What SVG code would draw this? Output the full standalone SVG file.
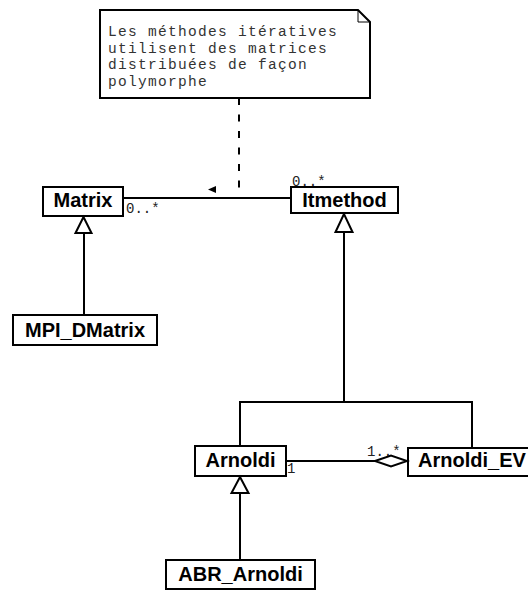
<svg xmlns="http://www.w3.org/2000/svg" width="528" height="590" viewBox="0 0 528 590">
  <style>
    .box { fill: #fff; stroke: #000; stroke-width: 2; }
    .name { font-family: "Liberation Sans", Arial, sans-serif; font-weight: bold; font-size: 20px; text-anchor: middle; fill: #000; }
    .note { font-family: "Liberation Mono", "Courier New", monospace; font-size: 14.5px; letter-spacing: 1.3px; fill: #333; }
    .mult { font-family: "Liberation Mono", "Courier New", monospace; font-size: 14px; fill: #222; }
    .line { fill: none; stroke: #000; stroke-width: 2; }
    .gen { fill: #fff; stroke: #000; stroke-width: 2; stroke-linejoin: miter; }
  </style>

  <!-- Note -->
  <g id="note">
    <path d="M100,10 H358 L370,22 V98 H100 Z" fill="#fff" stroke="#000" stroke-width="2"/>
    <path d="M358,10 V22 H370" fill="none" stroke="#000" stroke-width="1"/>
    <text class="note" x="108" y="36">Les méthodes itératives</text>
    <text class="note" x="108" y="52.5">utilisent des matrices</text>
    <text class="note" x="108" y="69">distribuées de façon</text>
    <text class="note" x="108" y="85.5">polymorphe</text>
  </g>

  <!-- Classes -->
  <g id="Matrix">
    <rect class="box" x="43" y="187" width="80" height="29"/>
    <text class="name" x="83" y="207">Matrix</text>
  </g>
  <g id="Itmethod">
    <rect class="box" x="291" y="187" width="107" height="26"/>
    <text class="name" x="344.5" y="207">Itmethod</text>
  </g>
  <g id="MPI_DMatrix">
    <rect class="box" x="13" y="315" width="144" height="30"/>
    <text class="name" x="85" y="337">MPI_DMatrix</text>
  </g>
  <g id="Arnoldi">
    <rect class="box" x="195" y="446" width="91" height="30"/>
    <text class="name" x="240.5" y="467">Arnoldi</text>
  </g>
  <g id="Arnoldi_EV">
    <rect class="box" x="408" y="448" width="130" height="28"/>
    <text class="name" x="472" y="467">Arnoldi_EV</text>
  </g>
  <g id="ABR_Arnoldi">
    <rect class="box" x="166" y="560" width="149" height="29"/>
    <text class="name" x="240.5" y="581">ABR_Arnoldi</text>
  </g>

  <!-- Connectors -->
  <g id="connectors">
    <!-- note anchor -->
    <line x1="239" y1="98" x2="239" y2="198" stroke="#000" stroke-width="2" stroke-dasharray="7,9.5"/>

    <!-- Matrix - Itmethod association -->
    <line class="line" x1="123" y1="198" x2="291" y2="198"/>
    <polygon points="208,189.5 216,186 216,193" fill="#000"/>
    <text class="mult" x="126" y="213">0..*</text>
    <text class="mult" x="292" y="186">0..*</text>

    <!-- MPI_DMatrix generalizes Matrix -->
    <line class="line" x1="84" y1="233" x2="84" y2="315"/>
    <polygon class="gen" points="83.5,217 75.5,233 91.5,233"/>

    <!-- Arnoldi / Arnoldi_EV generalize Itmethod -->
    <polyline class="line" points="240,446 240,402 472,402 472,448"/>
    <line class="line" x1="344" y1="232" x2="344" y2="402"/>
    <polygon class="gen" points="344,214 335.5,232 352.5,232"/>

    <!-- ABR_Arnoldi generalizes Arnoldi -->
    <line class="line" x1="240" y1="493" x2="240" y2="560"/>
    <polygon class="gen" points="240,477 231.5,493 248.5,493"/>

    <!-- Arnoldi_EV aggregates Arnoldi -->
    <line class="line" x1="286" y1="461" x2="375" y2="461"/>
    <text class="mult" x="287" y="473">1</text>
    <text class="mult" x="367" y="456">1..*</text>
    <polygon points="375,461 391,455.5 407,461 391,466.5" fill="#fff" stroke="#000" stroke-width="2"/>
  </g>
</svg>
